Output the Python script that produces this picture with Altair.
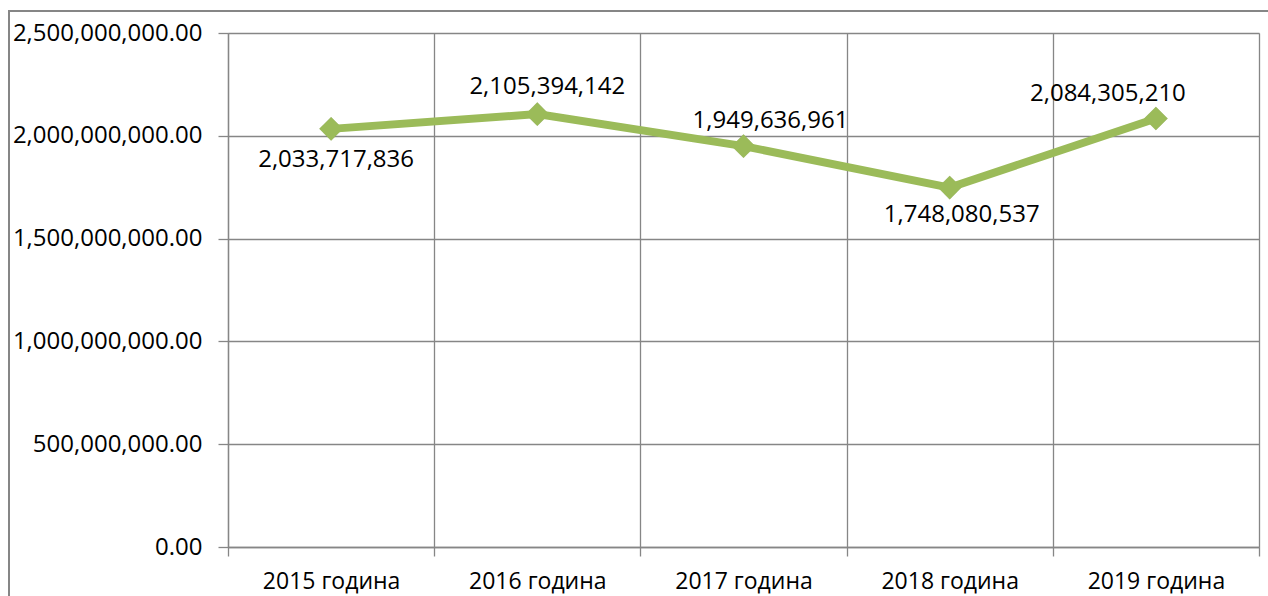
import altair as alt
import pandas as pd

years = ["2015 година", "2016 година", "2017 година", "2018 година", "2019 година"]
values = [2033717836, 2105394142, 1949636961, 1748080537, 2084305210]
labels = ["2,033,717,836", "2,105,394,142", "1,949,636,961", "1,748,080,537", "2,084,305,210"]

df = pd.DataFrame({"year": years, "value": values, "label": labels})

FONT = "Open Sans"
GRID = "#868686"
GREEN = "#9BBB59"

x_enc = alt.X(
    "year:N",
    sort=years,
    scale=alt.Scale(type="band", paddingInner=0, paddingOuter=0),
    axis=alt.Axis(
        title=None, labelAngle=0, tickBand="extent", grid=True,
        gridColor=GRID, gridWidth=1.3, domainColor=GRID, domainWidth=1.3,
        tickColor=GRID, tickWidth=1.3, tickSize=9,
        labelPadding=14, labelFont=FONT, labelFontSize=23, labelColor="#000000", labelLimit=0,
    ),
)
y_enc = alt.Y(
    "value:Q",
    scale=alt.Scale(domain=[0, 2500000000], nice=False),
    axis=alt.Axis(
        title=None, values=[0, 500000000, 1000000000, 1500000000, 2000000000, 2500000000],
        format=",.2f", grid=True, gridColor=GRID, gridWidth=1.3, domainColor=GRID, domainWidth=1.3,
        tickColor=GRID, tickWidth=1.3, tickSize=10, labelPadding=16, labelFont=FONT,
        labelFontSize=24, labelColor="#000000", labelLimit=0,
    ),
)

base = alt.Chart(df).encode(x=x_enc, y=y_enc)

frame = alt.Chart(df).mark_rect(fill=None, stroke=GRID, strokeWidth=1.5).encode(
    x=alt.value(-219), x2=alt.value(1060), y=alt.value(-22), y2=alt.value(600)
)

shadow = base.mark_point(shape="diamond", filled=True, size=560, color="#000000", opacity=0.18, dx=2, dy=3)
line = base.mark_line(color=GREEN, strokeWidth=8)
pts = base.mark_point(shape="diamond", filled=True, size=560, color=GREEN, opacity=1)

offsets = {
    "2015 година": (5, 31),
    "2016 година": (10, -27),
    "2017 година": (27, -25),
    "2018 година": (12, 27),
    "2019 година": (-48, -24),
}
texts = []
for yr in years:
    dx, dy = offsets[yr]
    texts.append(
        base.transform_filter(alt.datum.year == yr).mark_text(
            font=FONT, fontSize=24, color="#000000", dx=dx, dy=dy, baseline="middle", align="center"
        ).encode(text="label:N")
    )

chart = alt.layer(frame, shadow, line, pts, *texts).properties(
    width=1031, height=514,
    autosize=alt.AutoSizeParams(type="none"),
    padding={"left": 228, "top": 33, "right": 9, "bottom": 49},
).configure_view(stroke=GRID, strokeWidth=1.3).configure(background="#ffffff")

chart.save("out.html", embed_options={"renderer": "svg", "actions": False})
